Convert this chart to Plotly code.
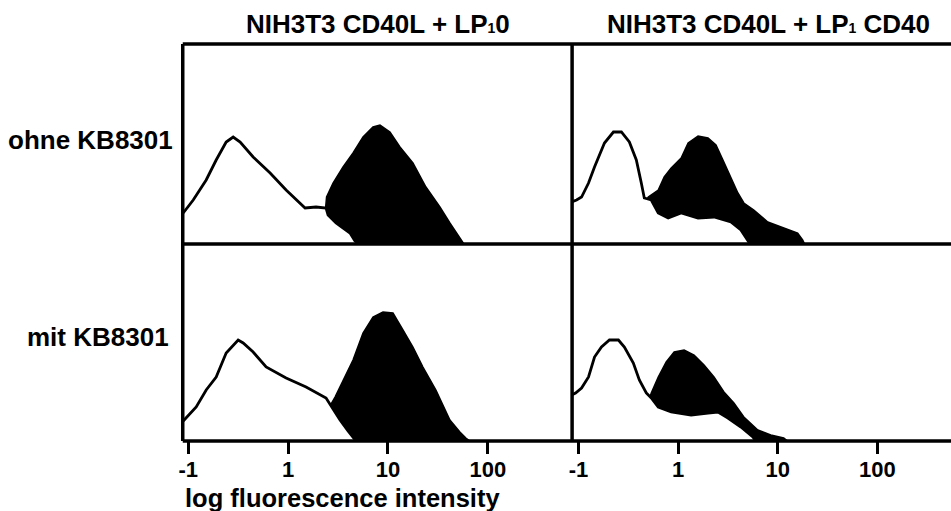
import plotly.graph_objects as go

# ---- data (log10 fluorescence intensity, relative cell counts) ----
tl_ctrl_x = [-1.05, -0.95, -0.82, -0.72, -0.62, -0.55, -0.48, -0.35, -0.18, -0.02, 0.17, 0.28, 0.38, 0.40, 0.48, 0.62, 0.67, 0.71]
tl_ctrl_y = [31, 44, 64, 84, 102, 107, 102, 87, 71, 54, 36, 37, 36, 29, 21, 11, 3, 0]
tl_samp_x = [0.05, 0.20, 0.30, 0.37, 0.385, 0.45, 0.55, 0.65, 0.75, 0.85, 0.92, 1.02, 1.12, 1.25, 1.38, 1.52, 1.62, 1.72, 1.76]
tl_samp_y = [0, 15, 28, 30, 47, 61, 77, 91, 107, 117, 119, 112, 97, 81, 57, 37, 21, 6, 0]

bl_ctrl_x = [-1.05, -0.92, -0.82, -0.72, -0.62, -0.55, -0.50, -0.45, -0.35, -0.22, -0.02, 0.18, 0.38, 0.45, 0.52, 0.60, 0.65, 0.68]
bl_ctrl_y = [20, 34, 51, 64, 88, 96, 101, 98, 89, 74, 63, 54, 43, 32, 21, 10, 3, 0]
bl_samp_x = [0.10, 0.25, 0.38, 0.43, 0.47, 0.55, 0.65, 0.75, 0.85, 0.95, 1.05, 1.15, 1.25, 1.35, 1.48, 1.62, 1.72, 1.78, 1.82]
bl_samp_y = [0, 15, 32, 37, 44, 61, 81, 108, 124, 129, 128, 111, 94, 74, 51, 21, 9, 3, 0]

tr_ctrl_x = [-1.07, -1.02, -0.97, -0.90, -0.84, -0.74, -0.65, -0.57, -0.49, -0.42, -0.37, -0.34, -0.27, -0.20, -0.10, 0.03, 0.20, 0.36, 0.53, 0.63, 0.71, 0.73]
tr_ctrl_y = [42, 44, 47, 61, 77, 101, 112, 112, 102, 84, 61, 46, 44, 31, 26, 31, 26, 27, 22, 14, 2, 0]
tr_samp_x = [-0.60, -0.45, -0.35, -0.30, -0.20, -0.14, -0.07, 0.03, 0.10, 0.20, 0.30, 0.38, 0.45, 0.53, 0.60, 0.66, 0.76, 0.90, 1.06, 1.20, 1.25, 1.27]
tr_samp_y = [0, 20, 38, 47, 54, 67, 76, 86, 101, 108, 106, 99, 84, 67, 51, 41, 34, 22, 16, 11, 4, 0]

br_ctrl_x = [-1.07, -1.03, -0.97, -0.90, -0.84, -0.77, -0.69, -0.60, -0.54, -0.45, -0.39, -0.32, -0.27, -0.20, -0.07, 0.13, 0.30, 0.40, 0.50, 0.63, 0.75, 0.78]
br_ctrl_y = [46, 48, 53, 64, 84, 94, 101, 101, 94, 78, 61, 48, 43, 34, 29, 26, 28, 29, 23, 14, 4, 0]
br_samp_x = [-0.50, -0.35, -0.29, -0.27, -0.20, -0.12, -0.04, 0.06, 0.16, 0.26, 0.36, 0.46, 0.56, 0.66, 0.80, 0.93, 1.06, 1.10]
br_samp_y = [0, 30, 42, 48, 64, 79, 89, 91, 86, 76, 64, 49, 38, 24, 11, 6, 3, 0]

col_titles = ["NIH3T3 CD40L + LP<span style='font-size:14px'>1</span>0",
              "NIH3T3 CD40L + LP<span style='font-size:14px'>1</span> CD40"]
row_titles = ["ohne KB8301", "mit KB8301"]
tick_vals = [-1, 0, 1, 2]
tick_text = ["-1", "1", "10", "100"]
x_title = "log fluorescence intensity"

# ---- layout geometry (pixels) ----
W, H = 951, 511
XL, XM, XR = 179.5, 570.5, 951
YT, YM, YB = 44, 244, 441
px = lambda v: v / W
py = lambda v: 1 - v / H

fig = go.Figure()
FONT = "Liberation Sans, Arial, sans-serif"

panels = [
    ("x", "y", tl_ctrl_x, tl_ctrl_y, tl_samp_x, tl_samp_y),
    ("x2", "y2", tr_ctrl_x, tr_ctrl_y, tr_samp_x, tr_samp_y),
    ("x3", "y3", bl_ctrl_x, bl_ctrl_y, bl_samp_x, bl_samp_y),
    ("x4", "y4", br_ctrl_x, br_ctrl_y, br_samp_x, br_samp_y),
]
for xa, ya, cx, cy, sx, sy in panels:
    fig.add_trace(go.Scatter(x=sx, y=sy, xaxis=xa, yaxis=ya, mode="lines",
                             line=dict(color="black", width=1.5),
                             fill="tozeroy", fillcolor="black", hoverinfo="skip"))
    fig.add_trace(go.Scatter(x=cx, y=cy, xaxis=xa, yaxis=ya, mode="lines",
                             line=dict(color="black", width=2.8),
                             fill="tozeroy", fillcolor="white", hoverinfo="skip"))

left_range = [-1 - 5.5 / 100.3, -1 - 5.5 / 100.3 + (XM - XL) / 100.3]
right_range = [-1 - 6.5 / 100, -1 - 6.5 / 100 + (XR - XM) / 100]

def xax(dom, rng, anchor, show):
    d = dict(domain=dom, range=rng, anchor=anchor, showgrid=False, zeroline=False,
             showline=False, fixedrange=True)
    if show:
        d.update(tickmode="array", tickvals=tick_vals, ticktext=tick_text,
                 ticks="outside", ticklen=12, tickwidth=3, tickcolor="black",
                 tickfont=dict(family=FONT, size=22, color="black", weight="bold"),
                 ticklabelstandoff=-3)
    else:
        d.update(showticklabels=False, ticks="")
    return d

def yax(dom, rng, anchor):
    return dict(domain=dom, range=rng, anchor=anchor, visible=False, fixedrange=True)

dom_left = [px(XL), px(XM)]
dom_right = [px(XM), 1.0]
dom_top = [py(YM), py(YT)]
dom_bot = [py(YB), py(YM)]

fig.update_layout(
    width=W, height=H, margin=dict(l=0, r=0, t=0, b=0),
    paper_bgcolor="white", plot_bgcolor="white", showlegend=False,
    xaxis=xax(dom_left, left_range, "y", False), yaxis=yax(dom_top, [0, YM - YT], "x"),
    xaxis2=xax(dom_right, right_range, "y2", False), yaxis2=yax(dom_top, [0, YM - YT], "x2"),
    xaxis3=xax(dom_left, left_range, "y3", True), yaxis3=yax(dom_bot, [0, YB - YM], "x3"),
    xaxis4=xax(dom_right, right_range, "y4", True), yaxis4=yax(dom_bot, [0, YB - YM], "x4"),
)

# frame lines
lw = 3.5
for (x0, y0, x1, y1) in [(XL, YT, XR, YT), (XL, YM, XR, YM), (XL, YB, XR, YB),
                         (XL, YT, XL, YB), (XM, YT, XM, YB)]:
    fig.add_shape(type="line", xref="paper", yref="paper",
                  x0=px(x0), y0=py(y0), x1=px(x1), y1=py(y1),
                  line=dict(color="black", width=lw), layer="above")

tfont = dict(family=FONT, size=26, color="black", weight="bold")
fig.add_annotation(text=col_titles[0], x=px(375.5), y=py(24), xref="paper", yref="paper",
                   showarrow=False, xanchor="center", yanchor="middle", font=tfont)
fig.add_annotation(text=col_titles[1], x=px(767.5), y=py(24), xref="paper", yref="paper",
                   showarrow=False, xanchor="center", yanchor="middle", font=tfont)
fig.add_annotation(text=row_titles[0], x=px(172), y=py(140), xref="paper", yref="paper",
                   showarrow=False, xanchor="right", yanchor="middle", font=tfont)
fig.add_annotation(text=row_titles[1], x=px(168), y=py(337), xref="paper", yref="paper",
                   showarrow=False, xanchor="right", yanchor="middle", font=tfont)
fig.add_annotation(text=x_title, x=px(180), y=py(498), xref="paper", yref="paper",
                   showarrow=False, xanchor="left", yanchor="middle",
                   font=dict(family=FONT, size=25.5, color="black", weight="bold"))

fig.write_html("out.html")
